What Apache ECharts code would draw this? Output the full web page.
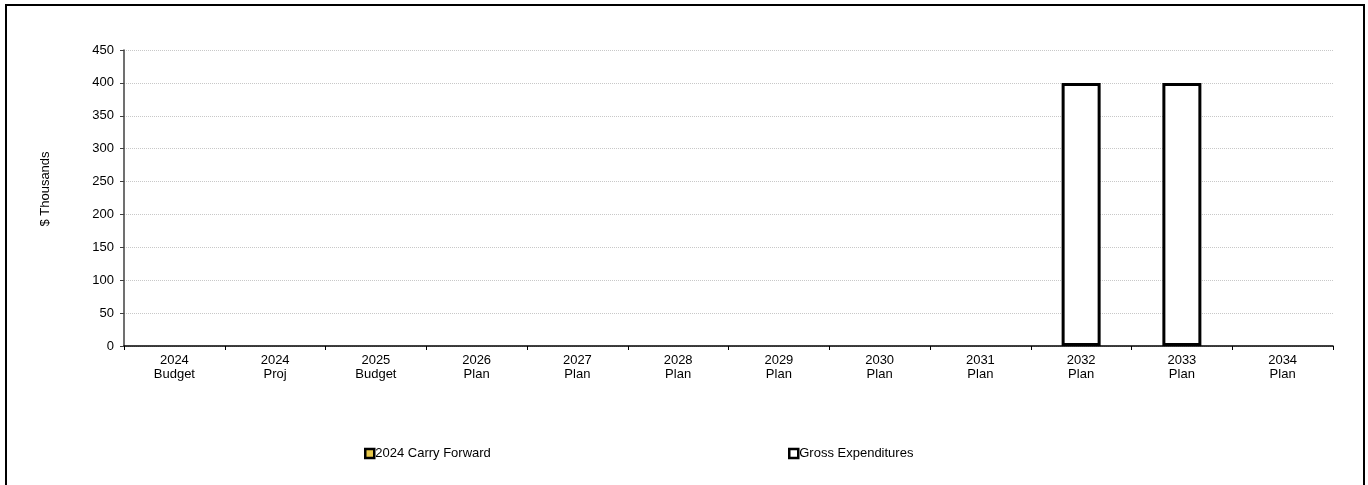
<!DOCTYPE html>
<html>
<head>
<meta charset="utf-8">
<script src="https://cdn.jsdelivr.net/npm/echarts@6/dist/echarts.min.js"></script>
<style>
html,body{margin:0;padding:0;background:#fff;overflow:hidden;}
#frame{position:absolute;left:5px;top:4px;width:1360px;height:520px;border:2px solid #000;box-sizing:border-box;}
#chart{position:absolute;left:0;top:0;width:1368px;height:485px;}
</style>
</head>
<body>
<div id="frame"></div>
<div id="chart"></div>
<script>
const categories = ["2024\nBudget","2024\nProj","2025\nBudget","2026\nPlan","2027\nPlan","2028\nPlan","2029\nPlan","2030\nPlan","2031\nPlan","2032\nPlan","2033\nPlan","2034\nPlan"];
const carryForward = [0,0,0,0,0,0,0,0,0,0,0,0];
const grossExpenditures = [0,0,0,0,0,0,0,0,0,400,400,0];
const yTicks = {min:0, max:450, interval:50};

const font = 'Liberation Sans, Arial, sans-serif';
const hideZero = v => ({value:v, itemStyle: v === 0 ? {borderWidth:0, color:'transparent'} : {}});
const chart = echarts.init(document.getElementById('chart'), null, {renderer:'canvas'});
chart.setOption({
  animation:false,
  backgroundColor:'transparent',
  grid:{left:124, right:35, top:50, bottom:139, containLabel:false},
  legend:[
    {left:359, top:442, itemWidth:9, itemHeight:9, itemGap:0, textStyle:{fontFamily:font,fontSize:13,color:'#000',padding:[0,0,0,-4]},
     data:[{name:'2024 Carry Forward', icon:'rect', itemStyle:{color:'#e8c84a', borderColor:'#000', borderWidth:2.5}}]},
    {left:783, top:442, itemWidth:9, itemHeight:9, itemGap:0, textStyle:{fontFamily:font,fontSize:13,color:'#000',padding:[0,0,0,-4]},
     data:[{name:'Gross Expenditures', icon:'rect', itemStyle:{color:'#fff', borderColor:'#000', borderWidth:2.5}}]}
  ],
  xAxis:{
    type:'category', data:categories, boundaryGap:true,
    axisLine:{lineStyle:{color:'#000', width:1.5}},
    axisTick:{show:true, alignWithLabel:false, length:4, lineStyle:{color:'#000'}},
    axisLabel:{fontFamily:font, fontSize:13, color:'#000', lineHeight:14, margin:7, interval:0}
  },
  yAxis:{
    type:'value', min:yTicks.min, max:yTicks.max, interval:yTicks.interval,
    name:'$ Thousands', nameLocation:'middle', nameGap:72, nameRotate:90,
    nameTextStyle:{fontFamily:font, fontSize:13, color:'#000', padding:[0,0,0,18]},
    axisLine:{show:true, lineStyle:{color:'#404040', width:1.5}},
    axisTick:{show:true, length:4, lineStyle:{color:'#404040'}},
    axisLabel:{fontFamily:font, fontSize:13, color:'#000', margin:10},
    splitLine:{show:true, lineStyle:{color:'#c8c8c8', type:'dotted', width:1}}
  },
  series:[
    {name:'2024 Carry Forward', type:'bar', stack:'a', data:carryForward.map(hideZero), barWidth:39,
     itemStyle:{color:'#e8c84a', borderColor:'#000', borderWidth:0}},
    {name:'Gross Expenditures', type:'bar', stack:'a', data:grossExpenditures.map(hideZero), barWidth:39,
     itemStyle:{color:'#fff', borderColor:'#000', borderWidth:3}}
  ]
});
</script>
</body>
</html>
